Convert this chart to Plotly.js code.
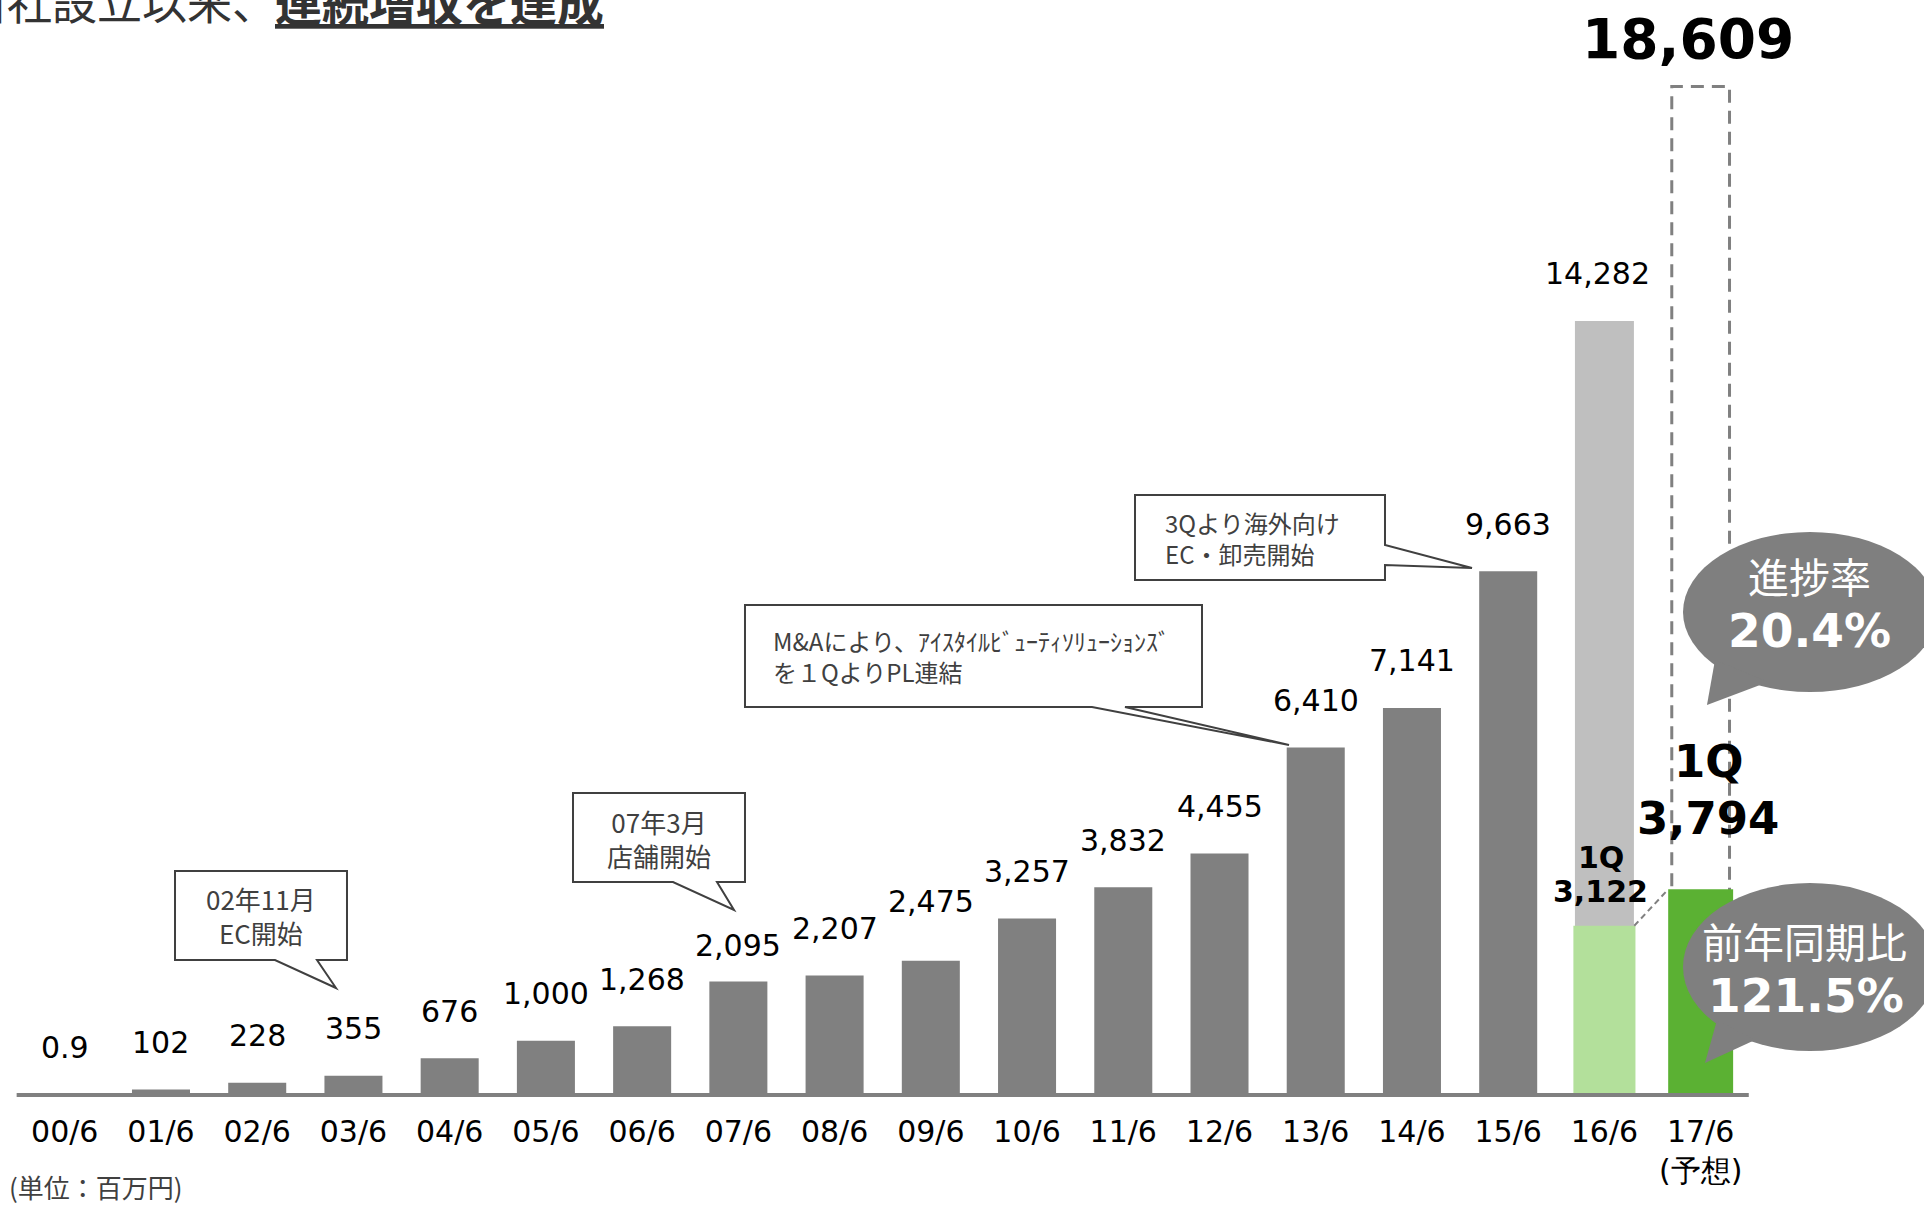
<!DOCTYPE html>
<html>
<head>
<meta charset="utf-8">
<script src="https://cdn.plot.ly/plotly-3.0.1.min.js"></script>
<style>
html,body{margin:0;padding:0;background:#ffffff;}
#chart{width:1924px;height:1207px;}
</style>
</head>
<body>
<div id="chart"></div>
<script>
// ---------------- data ----------------
const categories = ['00/6','01/6','02/6','03/6','04/6','05/6','06/6','07/6','08/6','09/6',
                    '10/6','11/6','12/6','13/6','14/6','15/6','16/6','17/6'];
const forecastNote = '(予想)';
// annual sales (百万円), 00/6 – 16/6
const annualSales = [0.9,102,228,355,676,1000,1268,2095,2207,2475,3257,3832,4455,6410,7141,9663,14282];
const prevQ1Sales = 3122;     // 16/6 1Q
const currQ1Sales = 3794;     // 17/6 1Q
const forecastSales = 18609;  // 17/6 forecast
const progressRate = '20.4%';
const yoyRate = '121.5%';
const unitNote = '(単位：百万円)';
const titlePlain = '当社設立以来、';
const titleBold = '連続増収を達成';
const noteEC = '02年11月<br>EC開始';
const noteStore = '07年3月<br>店舗開始';
const noteMA = 'M&Aにより、ｱｲｽﾀｲﾙﾋﾞｭｰﾃｨｿﾘｭｰｼｮﾝｽﾞ<br>を１QよりPL連結';
const noteOverseas = '3Qより海外向け<br>EC・卸売開始';

// ---------------- layout helpers ----------------
const FIG_W = 1924, FIG_H = 1207, MARGIN_B = 110;
const PLOT_H = FIG_H - MARGIN_B;
const px = x => x / FIG_W;
const py = y => (PLOT_H - y) / PLOT_H;
const pathOf = pts => 'M ' + pts.map(p => px(p[0]).toFixed(5) + ',' + py(p[1]).toFixed(5)).join(' L ') + ' Z';
const fmt = v => v < 1 ? String(v) : v.toLocaleString('en-US');

const NUM_FONT = 'DejaVu Sans, Verdana, sans-serif';
const JP_FONT = 'Noto Sans CJK JP, sans-serif';
const GRAY = '#808080';

const nHist = annualSales.length - 1;   // 00/6 .. 15/6 in dark gray
const iPrev = nHist;                    // 16/6
const iCurr = categories.length - 1;    // 17/6

const traces = [
  {type:'bar', x: categories.slice(0, nHist), y: annualSales.slice(0, nHist), width: 0.603,
   marker:{color: GRAY}, hoverinfo:'skip'},
  {type:'bar', x: [categories[iPrev]], y: [annualSales[iPrev]], width: 0.613,
   marker:{color:'#bfbfbf'}, hoverinfo:'skip'},
  {type:'bar', x: [categories[iPrev]], y: [prevQ1Sales], width: 0.645,
   marker:{color:'#b3e09b'}, hoverinfo:'skip'},
  {type:'bar', x: [categories[iCurr]], y: [currQ1Sales], width: 0.675,
   marker:{color:'#5bb133'}, hoverinfo:'skip'}
];

// ---------------- annotations ----------------
const labelNudge = {'07/6': -11, '09/6': 12};
const annotations = [];
annualSales.forEach((v, i) => {
  annotations.push({x: categories[i], y: v, xref:'x', yref:'y', text: fmt(v), showarrow:false,
    yanchor:'middle', yshift: 47 + (labelNudge[categories[i]] || 0),
    xshift: i === iPrev ? -7 : 0,
    font:{family: NUM_FONT, size: 30, color:'#000000'}});
});
// forecast total
annotations.push({x: categories[iCurr], y: forecastSales, xref:'x', yref:'y', text: fmt(forecastSales),
  showarrow:false, yanchor:'middle', yshift: 47, xshift: -13,
  font:{family: NUM_FONT, size: 55, color:'#000000', weight:'bold'}});
// 1Q labels
annotations.push({x: categories[iCurr], y: currQ1Sales, xref:'x', yref:'y', text:'1Q', showarrow:false,
  yanchor:'middle', yshift: 128, xshift: 8, font:{family: NUM_FONT, size: 45, color:'#000', weight:'bold'}});
annotations.push({x: categories[iCurr], y: currQ1Sales, xref:'x', yref:'y', text: fmt(currQ1Sales), showarrow:false,
  yanchor:'middle', yshift: 71, xshift: 7, font:{family: NUM_FONT, size: 45, color:'#000', weight:'bold'}});
annotations.push({x: categories[iPrev], y: prevQ1Sales, xref:'x', yref:'y', text:'1Q', showarrow:false,
  yanchor:'middle', yshift: 68, xshift: -3, font:{family: NUM_FONT, size: 30, color:'#000', weight:'bold'}});
annotations.push({x: categories[iPrev], y: prevQ1Sales, xref:'x', yref:'y', text: fmt(prevQ1Sales), showarrow:false,
  yanchor:'middle', yshift: 34, xshift: -4, font:{family: NUM_FONT, size: 30, color:'#000', weight:'bold'}});

// callout texts
const calloutFont = {family: JP_FONT, size: 24, color:'#404040'};
const calloutFontL = {family: JP_FONT, size: 26, color:'#404040'};
annotations.push({xref:'paper', yref:'paper', x: px(261), y: py(915), text: noteEC, align:'center',
  xanchor:'center', yanchor:'middle', showarrow:false, font: calloutFontL});
annotations.push({xref:'paper', yref:'paper', x: px(659), y: py(838), text: noteStore, align:'center',
  xanchor:'center', yanchor:'middle', showarrow:false, font: calloutFontL});
annotations.push({xref:'paper', yref:'paper', x: px(771), y: py(656), text: noteMA, align:'left',
  xanchor:'left', yanchor:'middle', showarrow:false, font: calloutFont});
annotations.push({xref:'paper', yref:'paper', x: px(1163), y: py(538), text: noteOverseas, align:'left',
  xanchor:'left', yanchor:'middle', showarrow:false, font: calloutFont});

// bubble texts
annotations.push({xref:'paper', yref:'paper', x: px(1809), y: py(575), text:'進捗率', showarrow:false,
  xanchor:'center', yanchor:'middle', font:{family: JP_FONT, size: 41, color:'#ffffff'}});
annotations.push({xref:'paper', yref:'paper', x: px(1809), y: py(630), text: progressRate, showarrow:false,
  xanchor:'center', yanchor:'middle', font:{family: NUM_FONT, size: 47, color:'#ffffff', weight:'bold'}});
annotations.push({xref:'paper', yref:'paper', x: px(1804), y: py(940), text:'前年同期比', showarrow:false,
  xanchor:'center', yanchor:'middle', font:{family: JP_FONT, size: 41, color:'#ffffff'}});
annotations.push({xref:'paper', yref:'paper', x: px(1806), y: py(995), text: yoyRate, showarrow:false,
  xanchor:'center', yanchor:'middle', font:{family: NUM_FONT, size: 47, color:'#ffffff', weight:'bold'}});

// unit note
annotations.push({xref:'paper', yref:'paper', x: px(8), y: py(1186), text: unitNote, showarrow:false,
  xanchor:'left', yanchor:'middle', borderpad:0, font:{family: JP_FONT, size: 26, color:'#404040'}});

// title (cut off at the top edge, as in the reference)
annotations.push({xref:'paper', yref:'paper', x: px(279), y: 1, yshift: 0, showarrow:false,
  xanchor:'right', yanchor:'middle', text: titlePlain,
  font:{family: JP_FONT, size: 45, color:'#333333'}});
annotations.push({xref:'paper', yref:'paper', x: px(273), y: 1, yshift: 0, showarrow:false,
  xanchor:'left', yanchor:'middle', text: '<b><u>' + titleBold + '</u></b>',
  font:{family: JP_FONT, size: 47, color:'#333333'}});

// ---------------- shapes ----------------
const shapes = [
  // forecast outline (dashed)
  {type:'rect', xref:'x', yref:'y', x0: iCurr - 0.3, x1: iCurr + 0.3, y0: 0, y1: forecastSales,
   layer:'below', line:{color: GRAY, width: 3, dash:'13px,8px'}, fillcolor:'rgba(0,0,0,0)'},
  // connector between the two 1Q bars
  {type:'line', xref:'x', yref:'y', x0: iPrev + 0.31, y0: prevQ1Sales, x1: iCurr - 0.3375, y1: currQ1Sales,
   layer:'above', line:{color: GRAY, width: 2, dash:'6px,4px'}},
  // baseline axis line
  {type:'line', xref:'x', yref:'y', x0: -0.5, x1: categories.length - 0.5, y0: 0, y1: 0,
   layer:'above', line:{color: GRAY, width: 4}},
  // callouts
  {type:'path', xref:'paper', yref:'paper', layer:'above', fillcolor:'#ffffff', line:{color:'#404040', width:2},
   path: pathOf([[175,871],[347,871],[347,960],[317,960],[336,988],[275,960],[175,960]])},
  {type:'path', xref:'paper', yref:'paper', layer:'above', fillcolor:'#ffffff', line:{color:'#404040', width:2},
   path: pathOf([[573,793],[745,793],[745,882],[717,882],[734,910],[673,882],[573,882]])},
  {type:'path', xref:'paper', yref:'paper', layer:'above', fillcolor:'#ffffff', line:{color:'#404040', width:2},
   path: pathOf([[745,605],[1202,605],[1202,707],[1125,707],[1289,745],[1092,707],[745,707]])},
  {type:'path', xref:'paper', yref:'paper', layer:'above', fillcolor:'#ffffff', line:{color:'#404040', width:2},
   path: pathOf([[1135,495],[1385,495],[1385,545],[1472,568],[1385,565],[1385,580],[1135,580]])},
  // speech bubbles
  {type:'circle', xref:'paper', yref:'paper', layer:'above', fillcolor:'#7f7f7f', line:{width:0},
   x0: px(1683), x1: px(1937), y0: py(692), y1: py(532)},
  {type:'path', xref:'paper', yref:'paper', layer:'above', fillcolor:'#7f7f7f', line:{width:0},
   path: pathOf([[1715,660],[1768,682],[1707,705]])},
  {type:'circle', xref:'paper', yref:'paper', layer:'above', fillcolor:'#7f7f7f', line:{width:0},
   x0: px(1683), x1: px(1937), y0: py(1051), y1: py(883)},
  {type:'path', xref:'paper', yref:'paper', layer:'above', fillcolor:'#7f7f7f', line:{width:0},
   path: pathOf([[1717,1020],[1755,1040],[1705,1063]])}
];

const tickText = categories.map((c, i) => i === iCurr ? c + '<br>' + forecastNote : c);

const layout = {
  width: FIG_W, height: FIG_H,
  margin: {l:0, r:0, t:0, b:MARGIN_B, pad:0},
  paper_bgcolor:'#ffffff', plot_bgcolor:'#ffffff',
  showlegend:false,
  barmode:'overlay',
  xaxis: {type:'category', categoryorder:'array', categoryarray: categories,
          range:[-0.673, 19.321], autorange:false, fixedrange:true,
          showgrid:false, zeroline:false, showline:false, ticks:'',
          tickvals: categories, ticktext: tickText, ticklabelstandoff: 14,
          tickfont:{family: NUM_FONT, size: 30, color:'#000000'}, automargin:false},
  yaxis: {range:[-36.9, 20203], autorange:false, visible:false, fixedrange:true, showgrid:false, zeroline:false},
  annotations: annotations,
  shapes: shapes
};

Plotly.newPlot('chart', traces, layout, {displayModeBar:false, staticPlot:true});
</script>
</body>
</html>
